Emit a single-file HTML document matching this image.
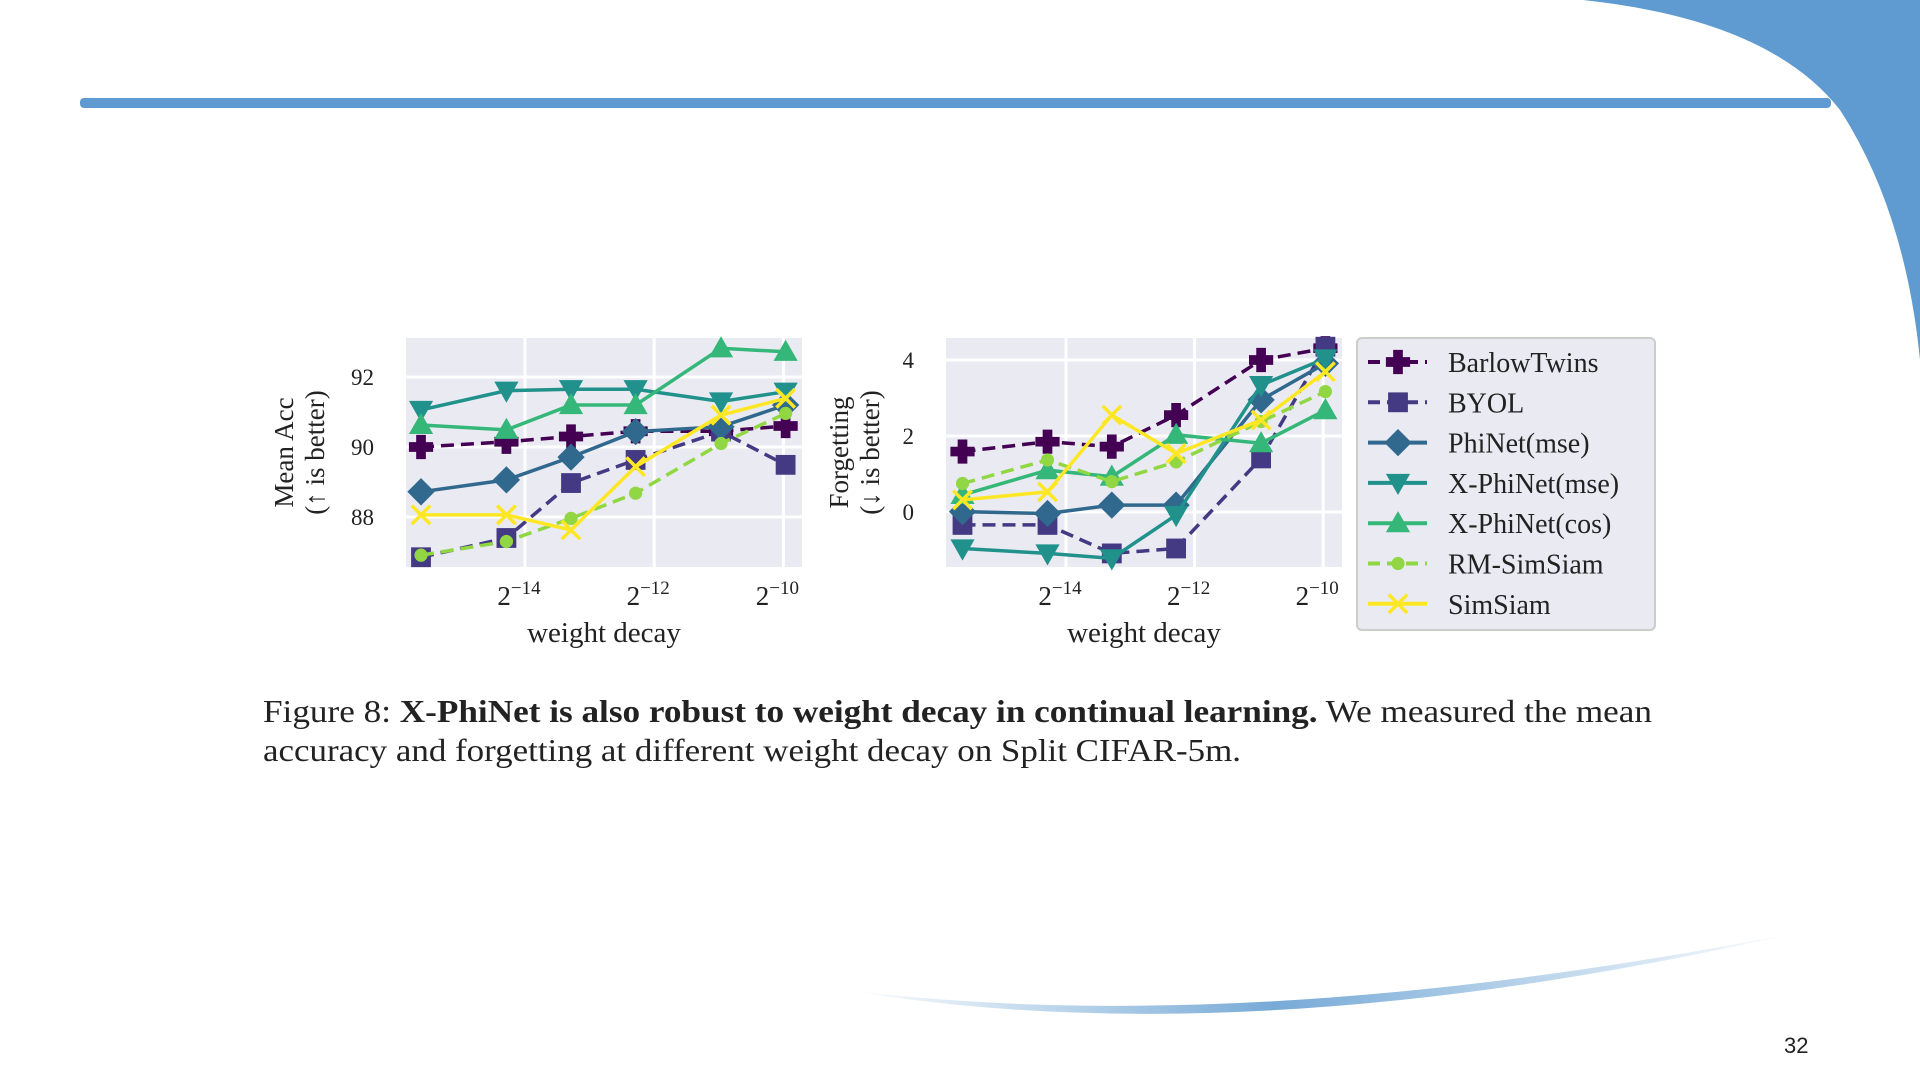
<!DOCTYPE html>
<html><head><meta charset="utf-8"><style>
html,body{margin:0;padding:0;background:#fff;}
svg{display:block;}
text{font-family:"Liberation Serif","DejaVu Serif",serif;fill:#222;}
</style></head><body>
<svg id="s" width="1920" height="1080" viewBox="0 0 1920 1080" xmlns="http://www.w3.org/2000/svg">
<defs>
<linearGradient id="sw" x1="0" x2="1" y1="0" y2="0">
<stop offset="0" stop-color="#5f9bd0" stop-opacity="0"/>
<stop offset="0.45" stop-color="#5f9bd0" stop-opacity="0.85"/>
<stop offset="1" stop-color="#5f9bd0" stop-opacity="0"/>
</linearGradient>
</defs>
<path d="M1583,0 Q1770,20 1840,110 Q1905,210 1920,360 L1920,0 Z" fill="#5f9bd0"/>
<rect x="80" y="98" width="1751" height="10" rx="4" fill="#5f9bd0"/>
<path d="M845,990 Q1250,1058 1800,932 Q1250,1040 845,990 Z" fill="url(#sw)"/>
<text x="1784" y="1053" font-size="22" style="font-family:'Liberation Sans',sans-serif" fill="#444">32</text>
<g id="charts"></g>
<g id="legend">
<rect x="1357" y="338" width="298" height="292" rx="5" fill="#eaeaf2" stroke="#cccccc" stroke-width="2"/>
</g>
<text x="263" y="722" font-size="32" textLength="1389" lengthAdjust="spacingAndGlyphs" fill="#111">Figure 8: <tspan font-weight="bold">X-PhiNet is also robust to weight decay in continual learning.</tspan> We measured the mean</text>
<text x="263" y="761" font-size="32" textLength="978" lengthAdjust="spacingAndGlyphs" fill="#111">accuracy and forgetting at different weight decay on Split CIFAR-5m.</text>
</svg>
<script>
const categories = [2e-5, 5e-5, 1e-4, 2e-4, 5e-4, 1e-3];
const seriesNames = ["BarlowTwins","BYOL","PhiNet(mse)","X-PhiNet(mse)","X-PhiNet(cos)","RM-SimSiam","SimSiam"];
const accBarlow = [90.0, 90.15, 90.3, 90.45, 90.45, 90.6];
const accByol = [86.85, 87.4, 88.97, 89.63, 90.44, 89.49];
const accPhi = [88.72, 89.06, 89.71, 90.44, 90.58, 91.2];
const accXmse = [91.06, 91.61, 91.65, 91.65, 91.3, 91.58];
const accXcos = [90.63, 90.49, 91.2, 91.2, 92.82, 92.72];
const accRm = [86.91, 87.3, 87.96, 88.68, 90.1, 90.96];
const accSim = [88.06, 88.06, 87.63, 89.44, 90.91, 91.39];
const fgBarlow = [1.59, 1.85, 1.72, 2.55, 4.0, 4.31];
const fgByol = [-0.34, -0.34, -1.09, -0.96, 1.41, 4.35];
const fgPhi = [0.01, -0.04, 0.18, 0.18, 2.95, 3.91];
const fgXmse = [-0.96, -1.09, -1.22, -0.08, 3.34, 4.04];
const fgXcos = [0.45, 1.1, 0.93, 2.03, 1.81, 2.68];
const fgRm = [0.75, 1.37, 0.8, 1.32, 2.38, 3.17];
const fgSim = [0.32, 0.53, 2.55, 1.54, 2.42, 3.69];
const accTicks = [88, 90, 92];
const fgTicks = [0, 2, 4];
const xTickExps = [-14, -12, -10];

const colors = ["#440154","#443983","#31688e","#21918c","#35b779","#90d743","#fde725"];
const markers = ["plus","square","diamond","tridown","triup","dot","x"];
const dashed = [true,true,false,false,false,true,false];
const NS="http://www.w3.org/2000/svg";
function el(tag, attrs, parent){const e=document.createElementNS(NS,tag);for(const k in attrs)e.setAttribute(k,attrs[k]);parent.appendChild(e);return e;}

function marker(g, type, x, y, c, s){
  let m;
  if(type==="plus"){const a=s*0.22,b=s*0.55;m=el("path",{d:`M${x-a},${y-b}h${2*a}v${b-a}h${b-a}v${2*a}h-${b-a}v${b-a}h-${2*a}v-${b-a}h-${b-a}v-${2*a}h${b-a}z`,fill:c},g);}
  else if(type==="square"){const a=s*0.45;m=el("rect",{x:x-a,y:y-a,width:2*a,height:2*a,fill:c},g);}
  else if(type==="diamond"){const a=s*0.62;m=el("path",{d:`M${x},${y-a}L${x+a},${y}L${x},${y+a}L${x-a},${y}Z`,fill:c},g);}
  else if(type==="tridown"){const a=s*0.55;m=el("path",{d:`M${x-a},${y-a*0.75}L${x+a},${y-a*0.75}L${x},${y+a}Z`,fill:c},g);}
  else if(type==="triup"){const a=s*0.55;m=el("path",{d:`M${x-a},${y+a*0.75}L${x+a},${y+a*0.75}L${x},${y-a}Z`,fill:c},g);}
  else if(type==="dot"){m=el("circle",{cx:x,cy:y,r:s*0.3,fill:c},g);}
  else {const a=s*0.42;m=el("path",{d:`M${x-a},${y-a}L${x+a},${y+a}M${x-a},${y+a}L${x+a},${y-a}`,stroke:c,"stroke-width":3.5,fill:"none"},g);}
  return m;
}

function drawChart(cfg){
  const root=document.getElementById("charts");
  const g=el("g",{},root);
  
  
  const xs=v=>cfg.x14+(Math.log2(v)+14)*cfg.pxPerLog;
  const xe=e=>cfg.x14+(e+14)*cfg.pxPerLog;
  const ys=v=>cfg.y0-(v-cfg.v0)*cfg.pxPerUnit;
  const bg=el("rect",{x:cfg.l,y:cfg.t,width:cfg.r-cfg.l,height:cfg.b-cfg.t,fill:"#eaeaf2"},g);
  
  
  xTickExps.forEach(e=>{
    const x=xe(e);
    const gl=el("line",{x1:x,x2:x,y1:cfg.t,y2:cfg.b,stroke:"#fff","stroke-width":3},g);
    
    
    const t=el("text",{x:x-6,y:605,"font-size":27,"text-anchor":"middle"},g);
    
    
    t.appendChild(document.createTextNode("2"));
    const sp=el("tspan",{dy:-11,"font-size":19},t);sp.textContent="−"+Math.abs(e);
  });
  cfg.ticks.forEach(v=>{
    const y=ys(v);
    const gl=el("line",{x1:cfg.l,x2:cfg.r,y1:y,y2:y,stroke:"#fff","stroke-width":3},g);
    
    
    const t=el("text",{x:cfg.l-32,y:y+8,"font-size":23,"text-anchor":"end"},g);
    
    
    t.textContent=v;
  });
  const xt=el("text",{x:(cfg.l+cfg.r)/2,y:642,"font-size":29,"text-anchor":"middle"},g);
  
  
  xt.textContent="weight decay";
  const yt=el("text",{transform:`translate(${cfg.ytx},${(cfg.t+cfg.b)/2}) rotate(-90)`,"font-size":27,"text-anchor":"middle"},g);
  
  
  const l1=el("tspan",{x:0,dy:0},yt);l1.textContent=cfg.title1;
  const l2=el("tspan",{x:0,dy:31},yt);l2.textContent=cfg.title2;
  cfg.series.forEach((vals,i)=>{
    const sg=el("g",{},g);
    
    
    const pts=vals.map((v,j)=>[xs(categories[j]),ys(v)]);
    const pl=el("polyline",{points:pts.map(p=>p.join(",")).join(" "),fill:"none",stroke:colors[i],"stroke-width":3.5,"stroke-dasharray":dashed[i]?"13,7":"none"},sg);
    
    
    pts.forEach(p=>{
      const m=marker(sg,markers[i],p[0],p[1],colors[i],22);
      
      
    });
  });
}

drawChart({name:"mean-acc-chart",l:406,r:802,t:338,b:567,x14:525,pxPerLog:64.6,y0:377,v0:92,pxPerUnit:35,
  ticks:accTicks,title1:"Mean Acc",title2:"(↑ is better)",ytx:293,
  series:[accBarlow,accByol,accPhi,accXmse,accXcos,accRm,accSim]});
drawChart({name:"forgetting-chart",l:946,r:1342,t:338,b:567,x14:1066,pxPerLog:64.3,y0:512,v0:0,pxPerUnit:38,
  ticks:fgTicks,title1:"Forgetting",title2:"(↓ is better)",ytx:848,
  series:[fgBarlow,fgByol,fgPhi,fgXmse,fgXcos,fgRm,fgSim]});

const lg=document.getElementById("legend");
seriesNames.forEach((n,i)=>{
  const y=362+i*40.3;
  const eg=el("g",{},lg);
  
  
  el("line",{x1:1368,x2:1427,y1:y,y2:y,stroke:colors[i],"stroke-width":4,"stroke-dasharray":dashed[i]?"12,7":"none"},eg);
  marker(eg,markers[i],1398,y,colors[i],22);
  const t=el("text",{x:1448,y:y+10,"font-size":28},eg);
  t.textContent=n;
});
</script>
</body></html>
